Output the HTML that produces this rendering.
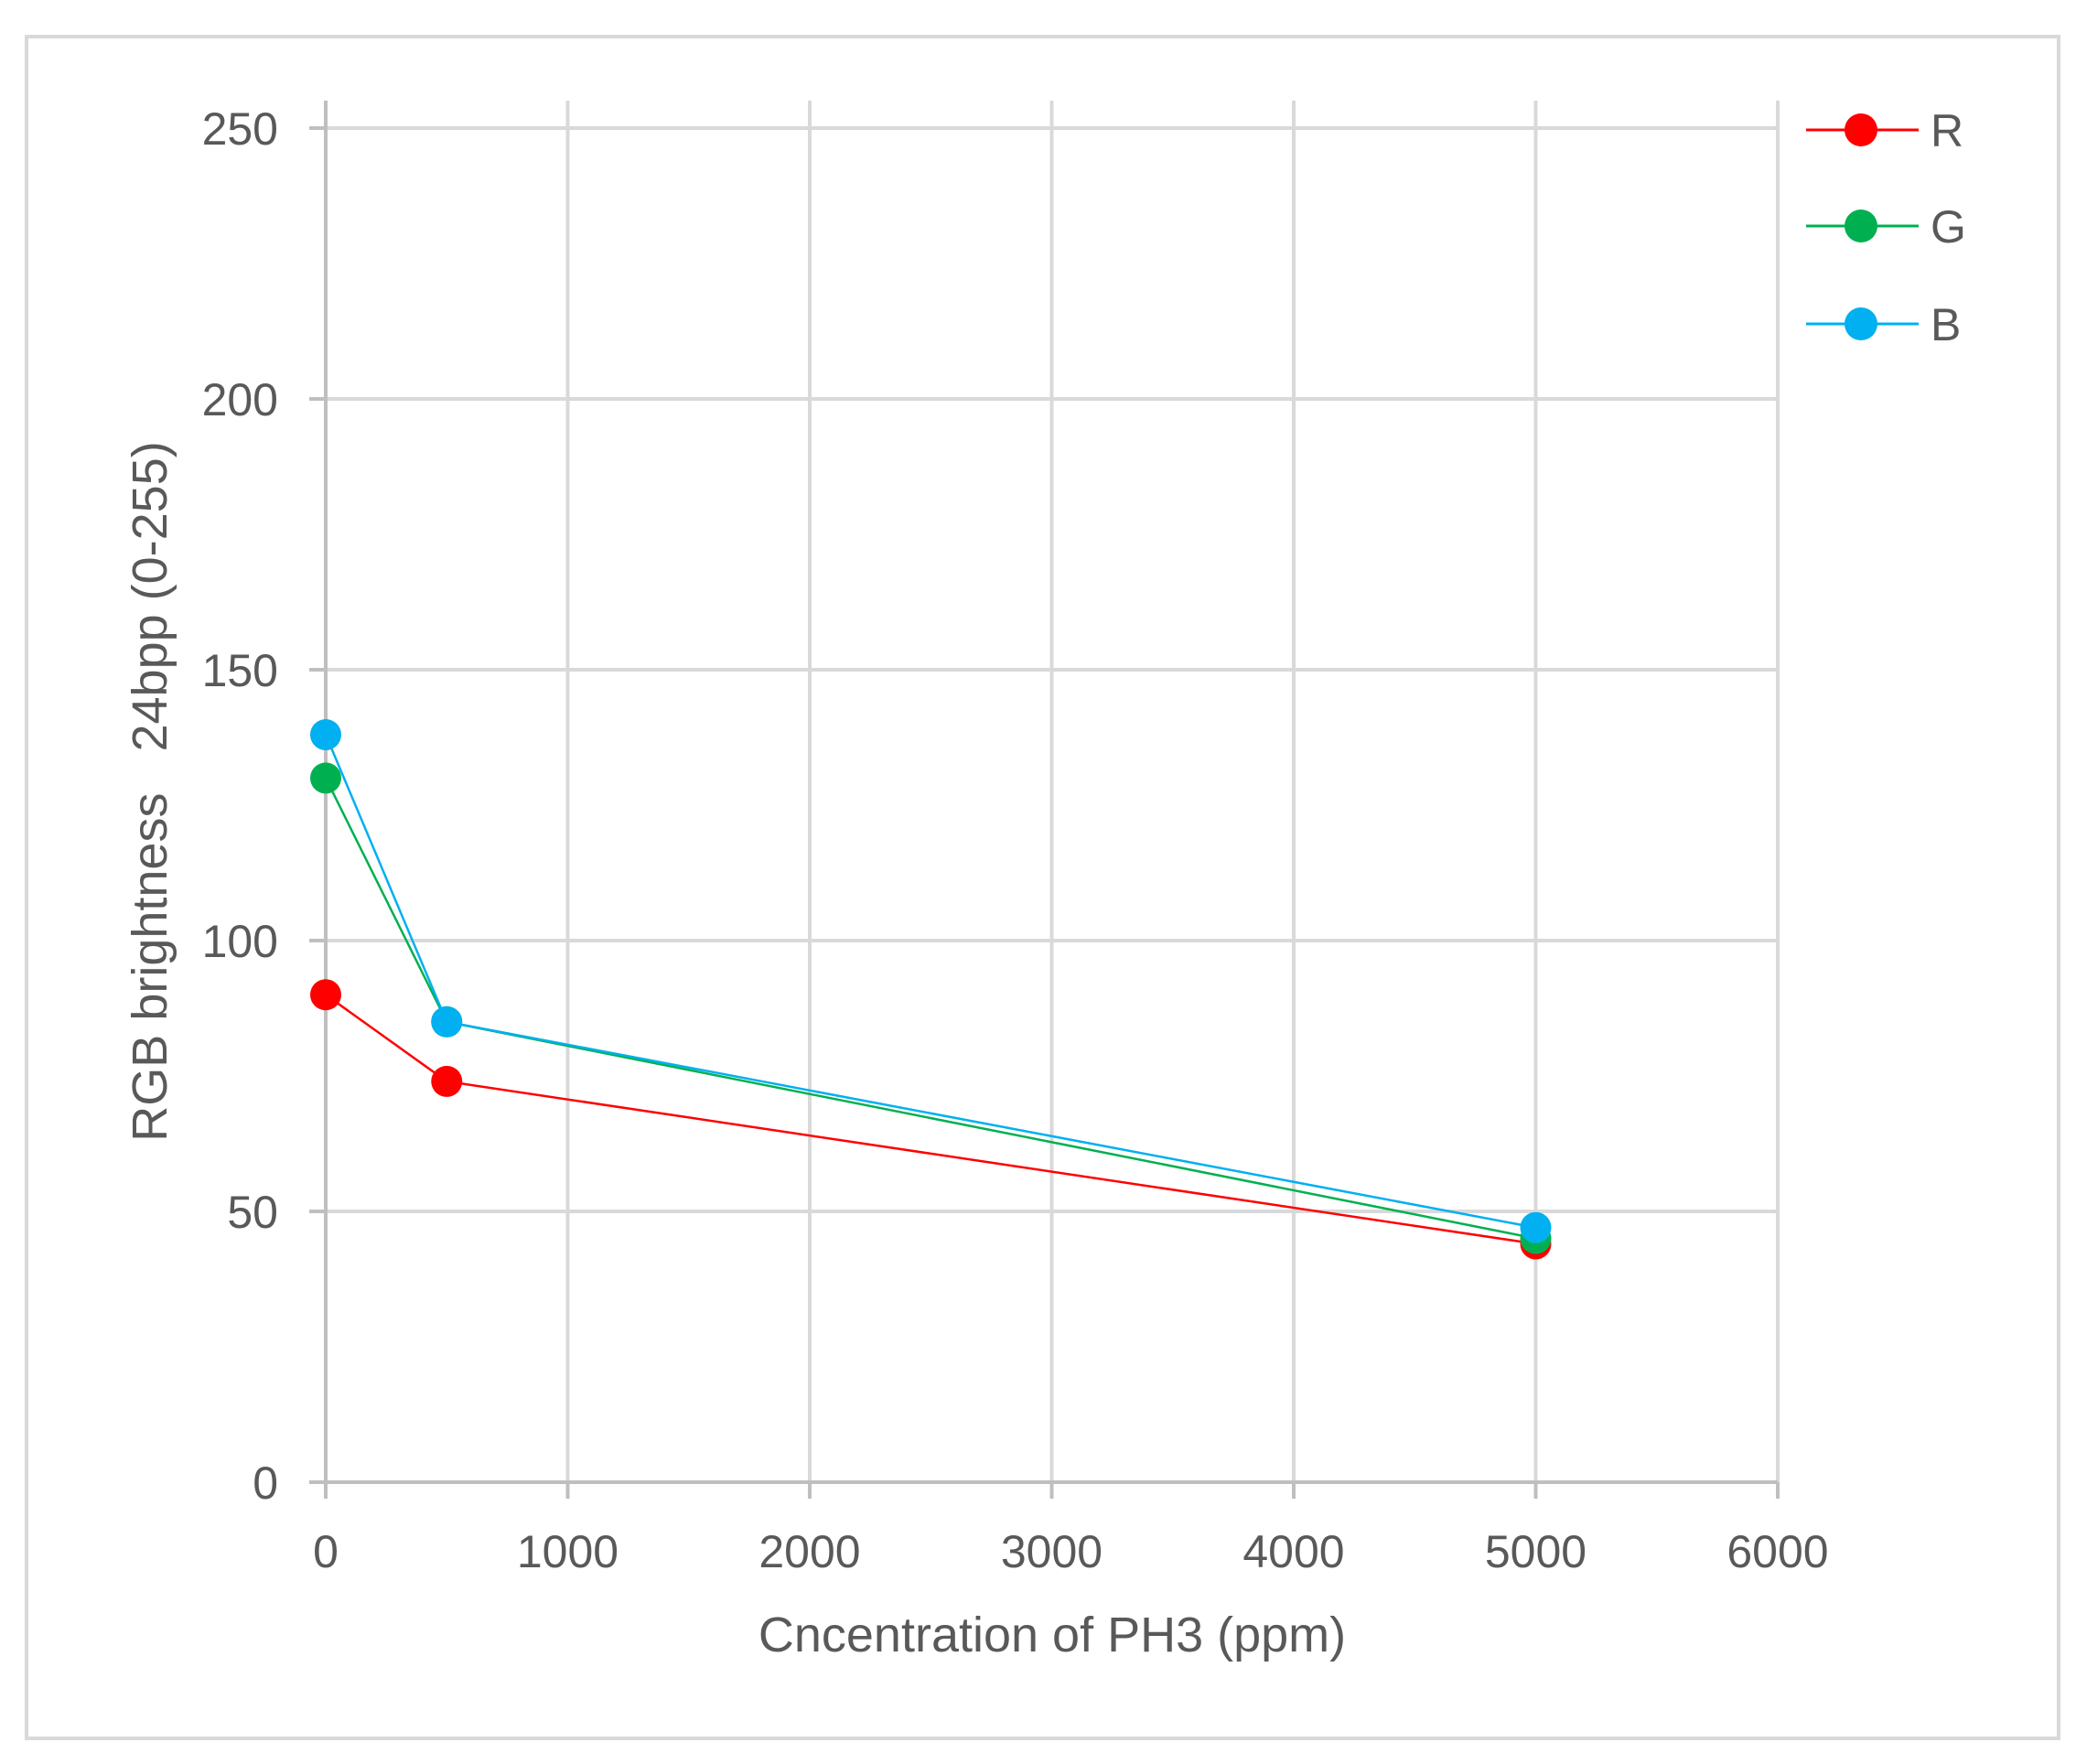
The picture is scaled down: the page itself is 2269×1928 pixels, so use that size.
<!DOCTYPE html>
<html><head><meta charset="utf-8"><style>
html,body{margin:0;padding:0;background:#fff;}
svg{display:block;}
text{font-family:"Liberation Sans Narrow","Liberation Sans",sans-serif;fill:#595959;}
</style></head><body>
<svg id="chart" width="2269" height="1928" viewBox="0 0 2269 1928" xmlns="http://www.w3.org/2000/svg">
<rect x="29" y="40" width="2221" height="1860" fill="#fff" stroke="#d9d9d9" stroke-width="4"/>
<g id="grid"></g><g id="axes"></g><g id="series"></g><g id="legend"></g>
<text x="1150" y="1805" font-size="54" text-anchor="middle">Cncentration of PH3 (ppm)</text>
<text x="0" y="0" font-size="54" text-anchor="middle" transform="translate(182,865) rotate(-90)">RGB brightness&#160;&#160;&#160;24bpp (0-255)</text>
</svg>
<script>
const xCats = [0, 500, 5000];
const seriesNames = ["R", "G", "B"];
const rValues = [90, 74, 44];
const gValues = [130, 85, 45];
const bValues = [138, 85, 47];
const xTicks = [0, 1000, 2000, 3000, 4000, 5000, 6000];
const yTicks = [0, 50, 100, 150, 200, 250];

const NS = "http://www.w3.org/2000/svg";
const X0 = 356, X1 = 1943, Y0 = 1620, Y1 = 140;
function xs(v){ return X0 + (v - 0) / 6000 * (X1 - X0); }
function ys(v){ return Y0 - v / 250 * (Y0 - Y1); }
function mk(tag, attrs, parent){ const e = document.createElementNS(NS, tag); for (const k in attrs) e.setAttribute(k, attrs[k]); parent.appendChild(e); return e; }
const grid = document.getElementById("grid"), axes = document.getElementById("axes"), ser = document.getElementById("series"), leg = document.getElementById("legend");

yTicks.forEach(t => {
  if (t > 0) {
    const l = mk("line", {x1: X0, x2: X1, y1: ys(t), y2: ys(t), stroke: "#d9d9d9", "stroke-width": 4}, grid);
    
    
  }
  const tk = mk("line", {x1: 338, x2: X0, y1: ys(t), y2: ys(t), stroke: "#bfbfbf", "stroke-width": 4}, axes);
  
  
  const tx = mk("text", {x: 304, y: ys(t) + 18, "font-size": 50, "text-anchor": "end"}, axes);
  tx.textContent = t;
  
  
});
xTicks.forEach(t => {
  if (t > 0) {
    const l = mk("line", {x1: xs(t), x2: xs(t), y1: 110, y2: Y0, stroke: "#d9d9d9", "stroke-width": 4}, grid);
    
    
  }
  const tk = mk("line", {x1: xs(t), x2: xs(t), y1: Y0, y2: 1638, stroke: "#bfbfbf", "stroke-width": 4}, axes);
  
  
  const tx = mk("text", {x: xs(t), y: 1713, "font-size": 50, "text-anchor": "middle"}, axes);
  tx.textContent = t;
  
  
});
const ya = mk("line", {x1: X0, x2: X0, y1: 110, y2: Y0, stroke: "#bfbfbf", "stroke-width": 4}, axes);


const xa = mk("line", {x1: 338, x2: X1, y1: Y0, y2: Y0, stroke: "#bfbfbf", "stroke-width": 4}, axes);



const allVals = [rValues, gValues, bValues];
const colors = ["#ff0000", "#00b050", "#00b0f0"];
allVals.forEach((vals, si) => {
  const pts = vals.map((v, i) => xs(xCats[i]) + "," + ys(v)).join(" ");
  const pl = mk("polyline", {points: pts, fill: "none", stroke: colors[si], "stroke-width": 2.5}, ser);
  
  
});
allVals.forEach((vals, si) => {
  vals.forEach((v, i) => {
    const c = mk("circle", {cx: xs(xCats[i]), cy: ys(v), r: 17, fill: colors[si]}, ser);
    
    
  });
});
const legY = [142, 247, 354];
seriesNames.forEach((n, si) => {
  const g = mk("g", {}, leg);
  
  
  mk("line", {x1: 1974, x2: 2097, y1: legY[si], y2: legY[si], stroke: colors[si], "stroke-width": 3}, g);
  mk("circle", {cx: 2034, cy: legY[si], r: 18, fill: colors[si]}, g);
  const t = mk("text", {x: 2110, y: legY[si] + 18, "font-size": 50}, g);
  t.textContent = n;
});
</script>
</body></html>
